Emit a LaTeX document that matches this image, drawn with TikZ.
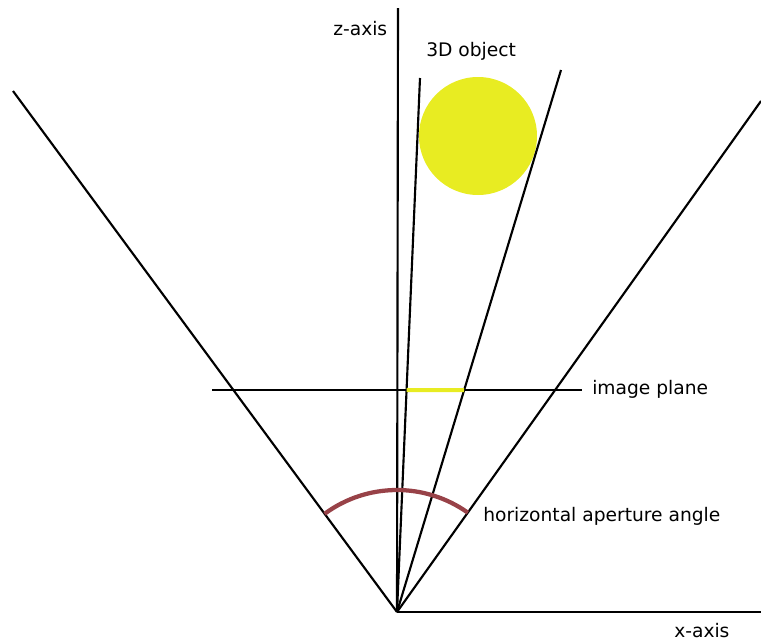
\documentclass[tikz,border=0pt]{standalone}
\usepackage{fontspec}
\setmainfont{DejaVu Sans}
\usetikzlibrary{positioning,calc}

\definecolor{objyellow}{RGB}{232,236,34}
\definecolor{aperturered}{RGB}{152,66,72}

\begin{document}
\begin{tikzpicture}[
  x=0.75pt, y=-0.75pt,
  font=\fontsize{14}{16}\selectfont,
  line/.style={line width=1.6pt, black},
  lab/.style={inner sep=0pt, anchor=west},
  proj/.style={line width=3pt, objyellow},
  aperture/.style={line width=3.2pt, aperturered}
]
\useasboundingbox (0,0) rectangle (761,643);

% --- Camera centre and axes ---------------------------------------------------
\coordinate (cam) at (397,612);
\coordinate (xend) at (761,612);
\coordinate (zend) at (398,8);
\draw[line] (cam) -- (xend);
\draw[line] (cam) -- (zend);
\node[lab] (xlab) at (674,631) {x-axis};
\node[lab] (zlab) at (333,29) {z-axis};

% --- Viewing frustum ------------------------------------------------------------
\coordinate (fleft) at (13,91);
\coordinate (fright) at (761,101);
\draw[line] (cam) -- (fleft);
\draw[line] (cam) -- (fright);

% --- 3D object and its projection rays -----------------------------------------
\node[circle, fill=objyellow, inner sep=0pt, minimum size=88.5pt] (obj) at (478,136) {};
\node[lab] (objlab) at (426,51) {3D object};
\coordinate (ray1) at (420,78);
\coordinate (ray2) at (561,70);
\draw[line] (cam) -- (ray1);
\draw[line] (cam) -- (ray2);

% --- Image plane -----------------------------------------------------------------
\coordinate (ipleft) at (212,390);
\coordinate (ipright) at (582,390);
\draw[line] (ipleft) -- (ipright);
\draw[proj] ($(cam)!{222/534}!(ray1)$) -- ($(cam)!{222/542}!(ray2)$);
\node[lab] (iplab) at (592,389) {image plane};

% --- Horizontal aperture angle ---------------------------------------------------
\draw[aperture] ($(cam)+(-54.5:122)$) arc[start angle=-54.5, end angle=-126.4, radius=122];
\node[lab] (anglab) at (483,516) {horizontal aperture angle};

\end{tikzpicture}
\end{document}
